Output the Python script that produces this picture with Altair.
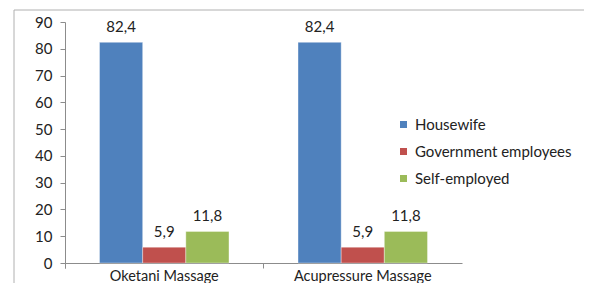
import altair as alt
import pandas as pd

categories = ["Oketani Massage", "Acupressure Massage"]
series = ["Housewife", "Government employees", "Self-employed"]
values = {
    "Housewife": [82.4, 82.4],
    "Government employees": [5.9, 5.9],
    "Self-employed": [11.8, 11.8],
}
colors = ["#4F81BD", "#C0504D", "#9BBB59"]

rows = []
for s in series:
    for c, v in zip(categories, values[s]):
        rows.append({"cat": c, "series": s, "value": v,
                     "label": f"{v:.1f}".replace(".", ",")})
df = pd.DataFrame(rows)

FONT = "Lato"
FS = 15
W, H = 397, 241

xscale = alt.Scale(paddingInner=0, paddingOuter=0)
yscale = alt.Scale(domain=[0, 90], nice=False)
xaxis = alt.Axis(bandPosition=0, labelAngle=0, tickExtra=True,
                 labelFont=FONT, labelFontSize=14.5, labelColor="#222222",
                 labelPadding=1, domainColor="#8c8c8c", tickColor="#8c8c8c",
                 tickSize=5, grid=False, labelOverlap=False)
yaxis = alt.Axis(values=list(range(0, 91, 10)), labelFont=FONT,
                 labelFontSize=FS, labelColor="#222222", labelPadding=8,
                 domainColor="#8c8c8c", tickColor="#8c8c8c", tickSize=5,
                 grid=False, labelOverlap=False)
x = alt.X("cat:N", sort=categories, title=None, scale=xscale, axis=xaxis)
xo = alt.XOffset("series:N", sort=series,
                 scale=alt.Scale(paddingInner=0, paddingOuter=0.8))
y = alt.Y("value:Q", title=None, scale=yscale, axis=yaxis)
color = alt.Color("series:N", sort=series, title=None,
                  scale=alt.Scale(domain=series, range=colors),
                  legend=alt.Legend(orient="none", legendX=331, legendY=95,
                                    symbolType="square", symbolSize=49,
                                    symbolStrokeWidth=0, labelFont=FONT,
                                    labelFontSize=FS, labelColor="#222222",
                                    rowPadding=11, labelOffset=4, padding=0))

bars = alt.Chart(df).mark_bar(stroke="#ffffff", strokeWidth=0.6, strokeOpacity=0.6).encode(
    x=x, xOffset=xo, y=y, color=color)

text = alt.Chart(df).mark_text(baseline="bottom", dy=-7, font=FONT, fontSize=FS,
                               color="#222222").encode(
    x=x, xOffset=xo, y=y, text="label:N")

one = pd.DataFrame({"a": [0]})
frame_top = alt.Chart(one).mark_rule(color="#b0b0b0").encode(
    x=alt.value(-51), x2=alt.value(700), y=alt.value(-12))
frame_left = alt.Chart(one).mark_rule(color="#b0b0b0").encode(
    x=alt.value(-51), y=alt.value(-12), y2=alt.value(400))

chart = alt.layer(bars, text, frame_top, frame_left).properties(
    width=W, height=H, background="white",
    autosize=alt.AutoSizeParams(type="none"),
    padding={"left": 57, "top": 14, "right": 122, "bottom": 20},
).configure_view(stroke=None, strokeWidth=0)

chart.save("out.html", embed_options={"renderer": "svg", "actions": False})
